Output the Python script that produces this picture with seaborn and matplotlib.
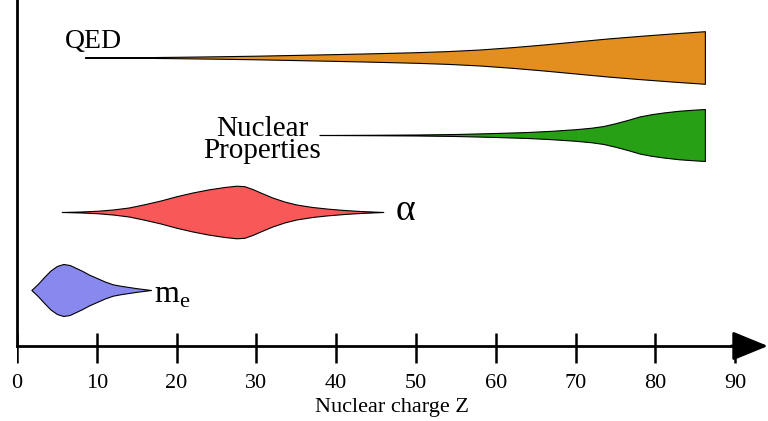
import matplotlib
matplotlib.use("Agg")
import matplotlib.pyplot as plt
import seaborn as sns


# profile of each quantity along Z: (Z, half-width in px of the drawing)
QED_Z = [8.5, 12, 16, 20, 25, 30, 35, 40, 45, 50, 54, 58, 62, 66, 70, 74, 78, 82, 86.2]
QED_W = [0, 0.15, 0.35, 0.7, 1.2, 1.8, 2.6, 3.4, 4.3, 5.3, 6.4, 8, 10.3, 13, 16, 19, 21.6, 24, 26.3]

NUC_Z = [37.9, 45, 50, 55, 60, 64, 67, 70, 72, 73.5, 75, 76.5, 78, 79.5, 81, 83, 85, 86.2]
NUC_W = [0, 0.25, 0.5, 1, 2, 3, 4.2, 5.8, 7.3, 9, 11.8, 15, 18.5, 20.8, 22.5, 24.3, 25.4, 26]

ALPHA_Z = [5.6, 8, 10, 12, 14, 16, 18, 20, 22, 24, 26, 27.5, 28.5, 29.5, 30.5, 32,
           33.5, 35, 37, 39, 41, 43, 45.9]
ALPHA_W = [0, 0.5, 1.2, 2.5, 4.5, 7.8, 11.5, 15.8, 19.5, 22.6, 25, 26.3, 25.8, 23, 19.5, 14.5,
           10.5, 7.5, 5, 3.3, 2, 1, 0]

ME_Z = [1.8, 2.6, 3.4, 4.2, 5, 5.8, 6.6, 7.4, 8.2, 9, 10, 11, 12, 13, 14, 15, 16, 16.8]
ME_W = [0, 6, 13, 19.5, 24, 26, 25, 22, 19, 15.5, 12, 8.5, 5.7, 4.2, 3, 1.8, 0.8, 0]

X_TICKS = [0, 10, 20, 30, 40, 50, 60, 70, 80, 90]

# lane centres (px above the axis line)
LANES = {"QED": 288.5, "Nuclear": 211, "alpha": 134, "me": 56}

COLORS = {
    "QED": "#E38F1F",
    "Nuclear": "#28A016",
    "alpha": "#F85858",
    "me": "#8888EE",
}

SERIF = ["Liberation Serif", "DejaVu Serif"]


def draw_profile(ax, z, w, centre, color):
    lower = [centre - v for v in w]
    upper = [centre + v for v in w]
    ax.fill_between(z, lower, upper, facecolor=color, edgecolor="black",
                    linewidth=0.8, zorder=2)


if __name__ == "__main__":
    sns.set_theme(style="white")
    plt.rcParams["font.family"] = SERIF
    plt.rcParams["text.color"] = "black"
    plt.rcParams["xtick.color"] = "black"
    plt.rcParams["axes.labelcolor"] = "black"
    plt.rcParams["mathtext.fontset"] = "custom"
    plt.rcParams["mathtext.rm"] = "Liberation Serif"

    fig = plt.figure(figsize=(7.68, 4.21), dpi=100)
    # axes reaches 30 px below the axis line so the tick marks sit inside it
    ax = fig.add_axes([17 / 768, 45 / 421, (766 - 17) / 768, 376 / 421])

    draw_profile(ax, QED_Z, QED_W, LANES["QED"], COLORS["QED"])
    draw_profile(ax, NUC_Z, NUC_W, LANES["Nuclear"], COLORS["Nuclear"])
    draw_profile(ax, ALPHA_Z, ALPHA_W, LANES["alpha"], COLORS["alpha"])
    draw_profile(ax, ME_Z, ME_W, LANES["me"], COLORS["me"])

    ax.set_xlim(0, 93.86)
    ax.set_ylim(-30, 346)

    ax.text(6.0, LANES["QED"] + 16, "QED", fontsize=20, ha="left", va="center")
    ax.text(30.7, LANES["Nuclear"] - 5, "Nuclear\nProperties", fontsize=21,
            ha="center", va="center", multialignment="center", linespacing=0.85)
    ax.text(47.4, LANES["alpha"] + 1, "α", fontsize=27, ha="left", va="center")
    ax.text(17.2, LANES["me"] - 5, r"$\mathrm{m}_\mathrm{e}$", fontsize=23,
            ha="left", va="center")

    for side in ["top", "right"]:
        ax.spines[side].set_visible(False)
    for side in ["left", "bottom"]:
        ax.spines[side].set_linewidth(2)
        ax.spines[side].set_color("black")
    ax.spines["bottom"].set_position(("data", 0))
    ax.spines["bottom"].set_bounds(0, 91)
    ax.spines["left"].set_bounds(0, 346)

    ax.annotate("", xy=(94.1, 0), xytext=(89.5, 0),
                arrowprops=dict(arrowstyle="-|>,head_length=1.1,head_width=0.45",
                                mutation_scale=20, color="black", lw=2,
                                shrinkA=0, shrinkB=0),
                annotation_clip=False, zorder=5)

    # tick marks crossing the axis line
    ax.vlines(X_TICKS, -17, 13, colors="black", linewidth=1.8, zorder=6)

    ax.set_xticks(X_TICKS)
    ax.set_xticklabels([str(t) for t in X_TICKS])
    ax.set_yticks([])
    ax.tick_params(axis="x", length=0, labelcolor="black", labelsize=16, pad=20)
    ax.set_xlabel("Nuclear charge Z", fontsize=16, labelpad=4, color="black")
    ax.set_ylabel("")

    fig.savefig("out.png", dpi=100)
